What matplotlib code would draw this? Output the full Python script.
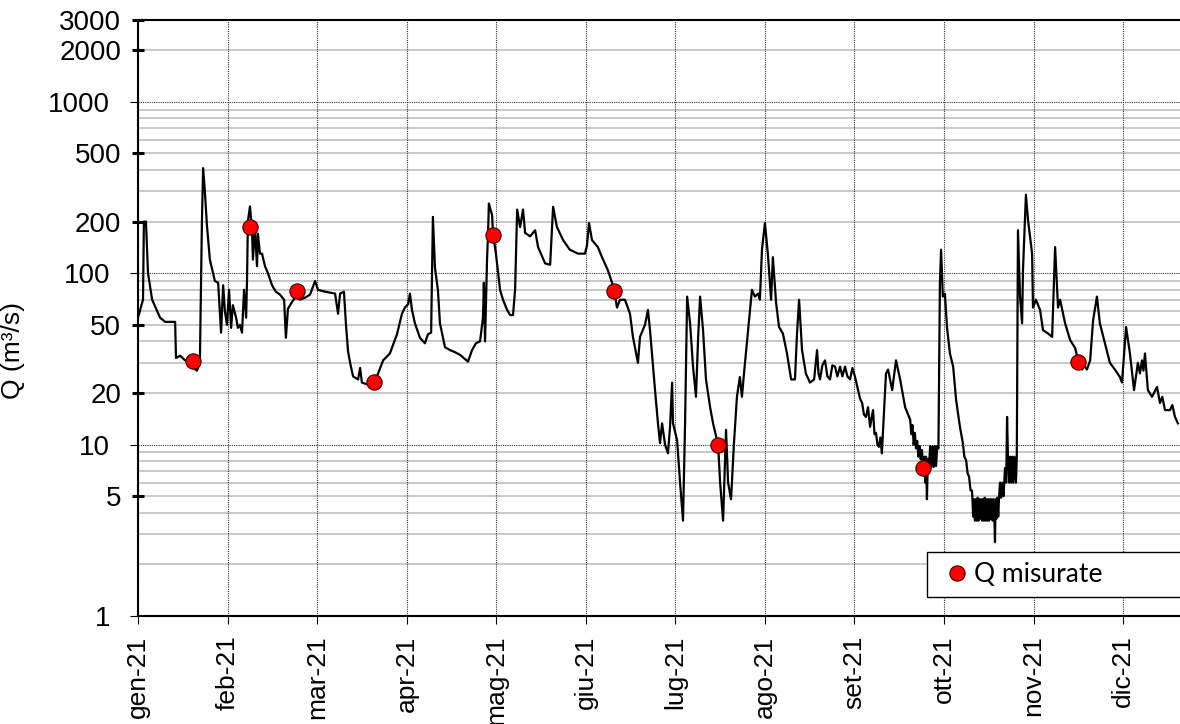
import numpy as np
import pandas as pd
import matplotlib
matplotlib.use("Agg")
import matplotlib.pyplot as plt
from matplotlib.patches import Rectangle
from matplotlib.ticker import FixedLocator, FixedFormatter, NullFormatter

# ---------- dati: (giorni dal 1 gennaio 2021, Q in m3/s) ---------- #
gennaio = [(0.0, 55), (1.7, 70), (2.0, 200), (2.7, 200), (3.4, 100), (4.8, 70), (7.5, 55),
           (9.2, 52), (10.9, 52), (12.6, 52), (12.9, 32), (14.3, 33), (16.0, 31), (17.7, 31),
           (18.7, 28), (20.0, 27), (21.0, 30), (21.7, 200), (22.1, 410), (22.7, 300),
           (23.4, 190), (24.4, 120), (25.5, 100), (26.1, 90), (27.2, 88), (28.2, 45),
           (28.9, 85), (29.5, 60), (30.2, 50), (30.9, 80)]
febbraio = [(31.6, 48), (32.2, 65), (33.3, 55), (33.9, 48), (34.6, 50), (35.3, 45), (36.0, 80),
            (36.7, 55), (37.0, 90), (37.3, 200), (38.0, 245), (38.7, 180), (39.0, 120),
            (39.7, 180), (40.4, 110), (40.7, 170), (41.4, 130), (42.1, 130), (43.1, 110),
            (44.1, 100), (45.5, 85), (46.8, 78), (48.2, 75), (49.6, 70), (50.2, 42),
            (50.9, 62), (52.3, 68), (54.0, 75), (55.0, 70), (56.7, 72), (58.4, 75)]
marzo = [(60.1, 90), (61.1, 80), (63.5, 78), (65.2, 77), (66.9, 76), (67.9, 58), (68.6, 76),
         (69.9, 78), (70.6, 50), (71.3, 35), (72.0, 30), (73.0, 25), (74.7, 24), (75.4, 28),
         (76.0, 23), (77.7, 22.5), (80.1, 23), (81.5, 26), (83.2, 31), (85.5, 34),
         (87.9, 44), (89.6, 58)]
aprile = [(90.6, 63), (91.7, 66), (92.3, 76), (93.0, 61), (94.0, 51), (95.7, 42), (97.4, 39),
          (98.4, 44), (99.5, 45), (100.1, 213), (100.8, 108), (101.8, 80), (102.5, 51),
          (104.2, 37), (105.9, 35.6), (107.6, 34.6), (109.3, 33.4), (112.0, 30.5),
          (113.4, 35.6), (114.7, 39), (116.1, 40), (117.1, 55), (117.4, 88), (117.8, 40),
          (118.5, 124), (118.8, 164), (119.1, 255)]
maggio = [(120.2, 218), (120.5, 170), (121.5, 130), (122.9, 80), (123.9, 70), (125.3, 61),
          (126.3, 57), (127.3, 57), (128.0, 80), (128.7, 235), (129.7, 186), (130.7, 235),
          (131.4, 172), (133.1, 164), (134.8, 178), (135.8, 142), (138.2, 114), (139.9, 112),
          (140.9, 244), (142.2, 186), (144.3, 156), (146.6, 137), (149.4, 130)]
giugno = [(151.7, 130), (152.4, 145), (153.1, 196), (154.1, 156), (156.1, 142), (157.5, 124),
          (159.5, 104), (160.9, 88), (161.6, 79), (162.6, 63), (163.6, 70), (165.3, 70),
          (167.0, 58), (168.0, 42.5), (169.7, 30), (170.4, 42.5), (172.1, 50), (173.1, 61),
          (173.8, 46.5), (175.5, 20.8), (176.5, 13.3), (177.2, 10.2), (177.9, 13.3),
          (178.9, 10), (179.9, 8.9), (180.6, 12.7)]
luglio = [(181.3, 23), (181.6, 13.3), (183.0, 10.6), (184.0, 6), (185.0, 3.6), (185.7, 13.3),
          (186.4, 73), (187.4, 51), (188.4, 28.5), (189.4, 19), (190.1, 40.8), (190.8, 73),
          (191.8, 46.5), (192.8, 24), (194.2, 16.5), (195.2, 13.3), (196.9, 10), (197.6, 6),
          (198.6, 3.6), (199.6, 12.2), (200.3, 6), (201.3, 4.8), (202.3, 10.2), (203.3, 19),
          (204.3, 24.8), (205.0, 19), (205.7, 26), (207.1, 46.5), (208.4, 80), (209.4, 73),
          (210.5, 76), (211.1, 70)]
agosto = [(211.8, 137), (212.8, 196), (213.8, 130), (214.9, 70), (215.5, 124), (216.6, 67),
          (217.6, 48.5), (218.9, 44.5), (220.3, 34), (221.7, 24), (223.0, 24), (223.7, 44.5),
          (224.4, 70), (225.4, 35.6), (226.7, 26), (228.1, 23), (229.5, 24), (230.5, 35.6),
          (231.0, 26), (231.5, 24), (232.3, 29), (233.2, 31), (234.0, 25), (234.9, 24),
          (235.7, 29), (236.6, 28.5), (237.4, 25), (238.3, 28.5), (239.1, 25), (240.0, 28.5),
          (240.8, 25), (241.7, 24), (242.5, 28)]
settembre = [(243.4, 24.8), (244.4, 20.8), (245.1, 18.5), (245.8, 17.5), (246.4, 15), (247.1, 14.5),
             (247.8, 16.5), (248.5, 12.7), (249.5, 15.9), (250.0, 11.5), (250.5, 11.7),
             (251.0, 10), (251.5, 9.7), (252.0, 11), (252.5, 8.9), (253.9, 26), (254.6, 27.4),
             (256.0, 20.8), (257.3, 31), (258.7, 24), (260.4, 16.5), (262.1, 14), (262.5, 11.5),
             (262.9, 13), (263.3, 10), (263.7, 11.7), (264.1, 9.5), (264.5, 10.5), (264.9, 8.5),
             (265.3, 9.8), (265.7, 8.2), (266.1, 9.3), (266.5, 7.3), (266.9, 8.5), (267.2, 6.0),
             (267.5, 8.5), (267.8, 4.8), (268.1, 8.2), (268.5, 7.5), (268.9, 9.8), (269.3, 7.4),
             (269.7, 9.8), (270.1, 7.4), (270.5, 9.8), (270.9, 7.5), (271.3, 9.8), (271.7, 9.5)]
ottobre = [(272.2, 88), (272.6, 137), (273.2, 73), (273.9, 76), (274.6, 48.5), (275.6, 34),
           (276.7, 28.5), (277.7, 18.2), (279.0, 12.7), (280.0, 10.2), (280.5, 8.5), (281.1, 8.1),
           (281.6, 6.8), (282.1, 6.5), (282.6, 5.4), (283.1, 5.4), (283.5, 3.8), (283.8, 4.8),
           (284.1, 3.6), (284.4, 4.8), (284.7, 3.6), (285.0, 4.9), (285.3, 3.6), (285.6, 4.8),
           (285.9, 3.7), (286.2, 4.8), (286.5, 3.6), (286.8, 4.8), (287.1, 3.6), (287.4, 4.9),
           (287.7, 3.6), (288.0, 4.8), (288.3, 3.6), (288.6, 4.8), (288.9, 3.6), (289.2, 4.8),
           (289.5, 3.7), (289.8, 4.8), (290.1, 3.6), (290.4, 4.8), (290.7, 3.6), (290.9, 2.7),
           (291.1, 4.8), (291.4, 3.7), (291.7, 4.9), (292.0, 3.8), (292.3, 5.0), (292.6, 6.0),
           (293.0, 4.9), (293.4, 6.0), (293.8, 5.0), (294.3, 7.3), (294.7, 6.0), (295.0, 14.5),
           (295.3, 8.5), (295.7, 6.0), (296.1, 8.5), (296.4, 6.0), (296.7, 8.5), (297.1, 6.0),
           (297.5, 8.5), (298.0, 6.0), (298.3, 8.5), (298.7, 178), (299.4, 73), (300.1, 51),
           (300.4, 104), (301.4, 287), (302.1, 205), (303.5, 130)]
novembre = [(303.8, 63), (304.8, 70), (306.2, 61), (307.2, 46.5), (308.9, 44.5), (310.3, 42.5),
            (311.3, 142), (312.3, 63), (313.0, 70), (314.7, 51), (316.4, 40.8), (318.1, 36.6),
            (319.1, 31), (320.4, 27.4), (321.2, 29), (322.1, 27.4), (323.2, 31), (324.2, 53),
            (325.5, 73), (326.5, 51), (328.2, 39), (329.9, 30), (331.6, 27.4), (333.3, 24.8)]
dicembre = [(334.0, 23), (335.4, 48.5), (336.7, 34), (338.1, 20.8), (339.4, 30), (340.1, 26),
            (340.8, 31), (341.3, 27), (341.8, 34), (342.8, 20.8), (344.2, 19), (345.9, 21.7),
            (346.9, 17.5), (347.7, 19), (348.6, 15.9), (350.3, 15.9), (351.1, 17), (352.0, 14.5),
            (353.0, 13.3)]

# misure puntuali
misure_giorni = [18.7, 38.0, 54.0, 80.1, 120.5, 161.6, 196.9, 266.5, 319.1]
misure_q = [30.7, 186, 78.7, 23.2, 167, 78.7, 10.0, 7.3, 30.4]

mesi = ["gen-21", "feb-21", "mar-21", "apr-21", "mag-21", "giu-21",
        "lug-21", "ago-21", "set-21", "ott-21", "nov-21", "dic-21"]
y_etichette_maggiori = [1, 10, 100, 1000]
y_etichette_minori = [5, 20, 50, 200, 500, 2000, 3000]

# ---------- preparazione ---------- #
inizio = pd.Timestamp("2021-01-01")
serie = gennaio + febbraio + marzo + aprile + maggio + giugno + luglio + agosto + \
    settembre + ottobre + novembre + dicembre
giorni = np.array([p[0] for p in serie])
portata = np.array([p[1] for p in serie])
date = inizio + pd.to_timedelta(giorni, unit="D")
date_misure = inizio + pd.to_timedelta(misure_giorni, unit="D")
# unita' principale dell'asse: 30.4 giorni (come in Excel)
pos_tick = inizio + pd.to_timedelta(np.arange(12) * 30.4, unit="D")

plt.rcParams['font.family'] = ['Liberation Sans', 'DejaVu Sans']

fig = plt.figure(figsize=(11.8, 7.24), dpi=100)
ax = fig.add_axes([138 / 1180, 1 - 616 / 724, 1042 / 1180, 596 / 724])

ax.set_yscale('log')
ax.set_ylim(1, 3000)
ax.set_xlim(inizio, inizio + pd.Timedelta(days=353.7))

# griglia orizzontale secondaria
for dec in [1, 10, 100, 1000]:
    for k in range(2, 10):
        v = dec * k
        if v < 3000:
            ax.axhline(v, color='#c4c4c4', lw=1.3, zorder=0)

ax.plot(date, portata, color='black', lw=1.6, zorder=3)
ax.plot(date_misure, misure_q, 'o', ms=11, mfc='#ff0000', mec='#3a0000', mew=0.8,
        zorder=4, label='Q misurate')

# assi
ax.yaxis.set_major_locator(FixedLocator(y_etichette_maggiori))
ax.yaxis.set_major_formatter(FixedFormatter([str(v) for v in y_etichette_maggiori]))
ax.yaxis.set_minor_locator(FixedLocator(y_etichette_minori))
ax.yaxis.set_minor_formatter(FixedFormatter([str(v) for v in y_etichette_minori]))
ax.tick_params(axis='y', which='major', direction='out', length=6, width=0.8,
               labelsize=20, pad=14)
ax.tick_params(axis='y', which='minor', direction='inout', length=8, width=2.2,
               labelsize=20, pad=8)

ax.set_xticks(pos_tick)
ax.set_xticklabels(mesi, rotation=90)
ax.xaxis.set_minor_formatter(NullFormatter())
ax.tick_params(axis='x', which='major', direction='out', length=6, width=0.8,
               labelsize=19, pad=8)

ax.grid(True, which='major', axis='both', color='#303030', lw=0.8, ls=(0, (1, 1)), zorder=1)

for s in ['left', 'bottom', 'top']:
    ax.spines[s].set_linewidth(1.5)
ax.spines['right'].set_visible(False)

ax.set_ylabel('Q (m³/s)', fontsize=19)
ax.yaxis.set_label_coords(-0.108, 0.446)

# riquadro della legenda (esce dal bordo destro come nell'originale)
ax.add_patch(Rectangle((0.757, 0.032), 0.3, 0.0755, transform=ax.transAxes,
                       facecolor='white', edgecolor='black', lw=1.0,
                       clip_on=False, zorder=5))
leg = ax.legend(loc='center left', bbox_to_anchor=(0.7735, 0.0696), borderaxespad=0,
                frameon=False, handletextpad=0.15, handlelength=1.0, borderpad=0,
                prop={'family': 'Lato', 'size': 19})
leg.set_zorder(6)

fig.savefig('out.png', dpi=100)
